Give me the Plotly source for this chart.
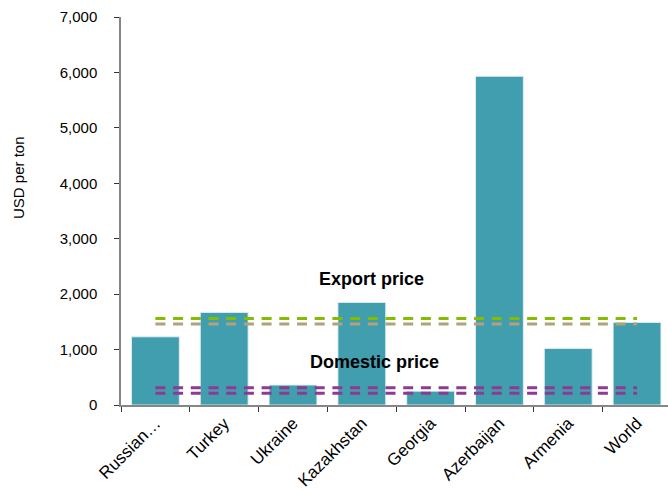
import plotly.graph_objects as go

categories = ["Russian…", "Turkey", "Ukraine", "Kazakhstan", "Georgia", "Azerbaijan", "Armenia", "World"]
values = [1230, 1670, 360, 1850, 250, 5930, 1020, 1490]

export_price_a = 1560
export_price_b = 1460
domestic_price_a = 310
domestic_price_b = 210

y_ticks = [0, 1000, 2000, 3000, 4000, 5000, 6000, 7000]
y_tick_labels = ["0", "1,000", "2,000", "3,000", "4,000", "5,000", "6,000", "7,000"]

fig = go.Figure()
fig.add_trace(go.Bar(
    x=categories, y=values,
    marker=dict(color="#419EAF", line=dict(color="rgba(225,240,243,0.9)", width=1)),
    showlegend=False,
))

line_specs = [
    (export_price_a, "#84BD00"),
    (export_price_b, "#B1A27A"),
    (domestic_price_a, "#8E3A92"),
    (domestic_price_b, "#8E3A92"),
]
for val, col in line_specs:
    fig.add_trace(go.Scatter(
        x=[categories[0], categories[-1]], y=[val, val], mode="lines",
        line=dict(color=col, width=3, dash="10px,7.7px"), showlegend=False,
        hoverinfo="skip",
    ))

fig.add_annotation(x=3.14, y=2269, xref="x", yref="y", text="<b>Export price</b>",
                   showarrow=False, font=dict(family="Liberation Sans, Arial", size=18, color="#000"))
fig.add_annotation(x=3.19, y=776, xref="x", yref="y", text="<b>Domestic price</b>",
                   showarrow=False, font=dict(family="Liberation Sans, Arial", size=18, color="#000"))
# y-axis title (placed as in the reference, above the vertical centre)
fig.add_annotation(x=-121, y=178, xref="x domain", yref="paper", text="USD per ton",
                   showarrow=False, textangle=-90,
                   font=dict(family="Liberation Sans, Arial", size=15, color="#000"))

fig.update_layout(
    width=668, height=498,
    margin=dict(l=121, r=0, t=17, b=93),
    paper_bgcolor="white", plot_bgcolor="white",
    bargap=0.305,
    font=dict(family="Liberation Sans, Arial", size=15, color="#000"),
)
fig.layout.annotations[-1].update(xref="paper", x=(18 - 121) / 547, xanchor="center",
                                  yref="paper", y=(405 - 178) / 388, yanchor="middle")
fig.update_xaxes(
    type="category", tickangle=-45, tickson="boundaries",
    ticks="outside", ticklen=5, tickcolor="#333",
    showline=True, linecolor="#868686", linewidth=1.5,
    showgrid=False, tickfont=dict(size=17),
    range=[-0.5, 7.45],
)
fig.update_yaxes(
    range=[0, 7000], tickvals=y_ticks, ticktext=y_tick_labels,
    ticks="outside", ticklen=5, tickcolor="#333",
    showline=True, linecolor="#868686", linewidth=1.5,
    showgrid=False, zeroline=False, tickfont=dict(size=15),
    ticklabelstandoff=14,
)

fig.write_html("out.html")
